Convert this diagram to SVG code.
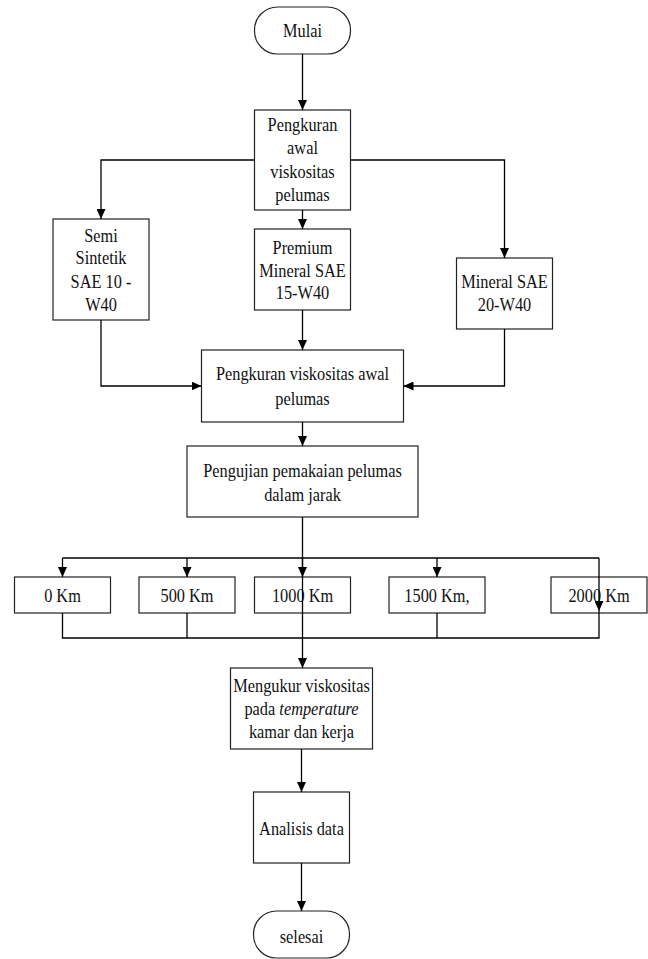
<svg xmlns="http://www.w3.org/2000/svg" width="648" height="959" viewBox="0 0 648 959">
<defs>
<style>
.box{fill:#fff;stroke:#222;stroke-width:1.2}
.t{font-size:19px;fill:#111;text-anchor:middle}
.c{fill:none;stroke:#000;stroke-width:1.3}
.a{marker-end:url(#ah)}
</style>
<marker id="ah" viewBox="0 0 10 9" refX="10" refY="4.5" markerWidth="10" markerHeight="9" markerUnits="userSpaceOnUse" orient="auto">
<path d="M0,0 L10,4.5 L0,9 z" fill="#000"/>
</marker>
</defs>
<rect width="648" height="959" fill="#fff"/>
<g font-family="Liberation Serif, Times New Roman, serif">
<g id="mulai"><rect class="box" x="254.5" y="7" width="96" height="47" rx="23" ry="23"/>
<text class="t" transform="translate(302.5,37) scale(0.86,1)">Mulai</text></g>
<g id="pengkuran-awal"><rect class="box" x="254.5" y="110" width="96" height="100"/>
<text class="t" transform="translate(302.5,131) scale(0.86,1)">Pengkuran</text>
<text class="t" transform="translate(302.5,154) scale(0.86,1)">awal</text>
<text class="t" transform="translate(302.5,178) scale(0.86,1)">viskositas</text>
<text class="t" transform="translate(302.5,201) scale(0.86,1)">pelumas</text></g>
<g id="semi"><rect class="box" x="53" y="219" width="96" height="101"/>
<text class="t" transform="translate(101,242) scale(0.86,1)">Semi</text>
<text class="t" transform="translate(101,264) scale(0.86,1)">Sintetik</text>
<text class="t" transform="translate(101,288) scale(0.86,1)">SAE 10 -</text>
<text class="t" transform="translate(101,311) scale(0.86,1)">W40</text></g>
<g id="premium"><rect class="box" x="254.5" y="229" width="96" height="81"/>
<text class="t" transform="translate(302.5,254) scale(0.86,1)">Premium</text>
<text class="t" transform="translate(302.5,277) scale(0.86,1)">Mineral SAE</text>
<text class="t" transform="translate(302.5,299) scale(0.86,1)">15-W40</text></g>
<g id="mineral"><rect class="box" x="456.5" y="258" width="96" height="71"/>
<text class="t" transform="translate(504.5,288) scale(0.86,1)">Mineral SAE</text>
<text class="t" transform="translate(504.5,311) scale(0.86,1)">20-W40</text></g>
<g id="pengkuran-viskositas"><rect class="box" x="201.5" y="350" width="202" height="72"/>
<text class="t" transform="translate(302.5,380) scale(0.86,1)">Pengkuran viskositas awal</text>
<text class="t" transform="translate(302.5,405) scale(0.86,1)">pelumas</text></g>
<g id="pengujian"><rect class="box" x="187" y="446" width="231" height="71"/>
<text class="t" transform="translate(302.5,477) scale(0.86,1)">Pengujian pemakaian pelumas</text>
<text class="t" transform="translate(302.5,501) scale(0.86,1)">dalam jarak</text></g>
<g id="km0"><rect class="box" x="14.5" y="577" width="96" height="36"/>
<text class="t" transform="translate(62.5,602) scale(0.86,1)">0 Km</text></g>
<g id="km500"><rect class="box" x="139" y="577" width="96" height="36"/>
<text class="t" transform="translate(187,602) scale(0.86,1)">500 Km</text></g>
<g id="km1000"><rect class="box" x="254.5" y="577" width="96" height="36"/>
<text class="t" transform="translate(302.5,602) scale(0.86,1)">1000 Km</text></g>
<g id="km1500"><rect class="box" x="389" y="577" width="96" height="36"/>
<text class="t" transform="translate(437,602) scale(0.86,1)">1500 Km,</text></g>
<g id="km2000"><rect class="box" x="551" y="577" width="96" height="36"/>
<text class="t" transform="translate(599,602) scale(0.86,1)">2000 Km</text></g>
<g id="mengukur"><rect class="box" x="230.5" y="668" width="142" height="81"/>
<text class="t" transform="translate(301.5,692) scale(0.86,1)">Mengukur viskositas</text>
<text class="t" transform="translate(301.5,715) scale(0.86,1)">pada <tspan font-style="italic">temperature</tspan></text>
<text class="t" transform="translate(301.5,738) scale(0.86,1)">kamar dan kerja</text></g>
<g id="analisis"><rect class="box" x="253.5" y="792" width="96" height="71"/>
<text class="t" transform="translate(301.5,835) scale(0.86,1)">Analisis data</text></g>
<g id="selesai"><rect class="box" x="253.5" y="911" width="96" height="47" rx="23" ry="23"/>
<text class="t" transform="translate(301.5,943) scale(0.86,1)">selesai</text></g>
</g>
<g id="connectors">
<path class="c a" d="M302.5,54 V110"/>
<path class="c a" d="M254.5,160 H101 V219"/>
<path class="c a" d="M302.5,210 V229"/>
<path class="c a" d="M350.5,160 H504.5 V258"/>
<path class="c a" d="M101,320 V386 H201.5"/>
<path class="c a" d="M302.5,310 V350"/>
<path class="c a" d="M504.5,329 V386 H403.5"/>
<path class="c a" d="M302.5,422 V446"/>
<path class="c" d="M62.5,558 H599"/>
<path class="c a" d="M62.5,558 V577"/>
<path class="c a" d="M187,558 V577"/>
<path class="c a" d="M437,558 V577"/>
<path class="c a" d="M302.5,558 V577"/>
<path class="c a" d="M599,558 V611"/>
<path class="c" d="M599,611 V638 H62.5 V613"/>
<path class="c" d="M187,613 V638"/>
<path class="c" d="M437,613 V638"/>
<path class="c a" d="M302.5,517 V668"/>
<path class="c a" d="M301.5,749 V792"/>
<path class="c a" d="M301.5,863 V911"/>
</g>
</svg>
